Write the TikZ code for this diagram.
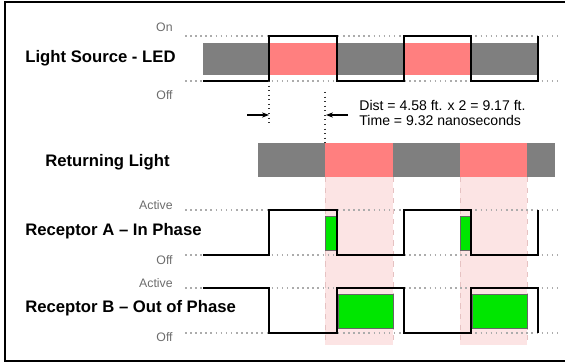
\documentclass[tikz,border=0pt]{standalone}
\usepackage{fontspec}
\setmainfont{Liberation Sans}
\usetikzlibrary{arrows.meta, positioning}

\definecolor{barGrey}{HTML}{7F7F7F}
\definecolor{barPink}{HTML}{FF7F7F}
\definecolor{windowPink}{HTML}{FCE4E4}
\definecolor{windowEdge}{HTML}{E6C2C2}
\definecolor{hitGreen}{HTML}{00E600}

\begin{document}
\begin{tikzpicture}[
    x=0.02cm, y=-0.02cm,
    signal/.style={draw=black, line width=1.1pt},
    level/.style={draw=gray!65, dotted, line width=0.9pt},
    marker/.style={draw=black!80, dotted, line width=0.6pt},
    heading/.style={anchor=west, inner sep=0pt, font=\bfseries\fontsize{9.5}{11}\selectfont},
    levelname/.style={anchor=east, inner sep=0pt, text=gray!85!black, font=\fontsize{7}{8}\selectfont},
    note/.style={anchor=west, inner sep=0pt, align=left, font=\fontsize{8}{8}\selectfont},
    window/.style={fill=windowPink},
    windowside/.style={draw=windowEdge, dashed, line width=0.5pt},
    hit/.style={fill=hitGreen, draw=black!60, line width=0.3pt},
    arrow/.style={-{Stealth[length=4pt, width=3pt]}, line width=0.6pt, draw=black}
]
\useasboundingbox (0,0) rectangle (565,364);
% frame
\draw[line width=1.3pt] (567,2) -- (5,2) -- (5,361) -- (567,361);

% headings
\node (ledName) [heading] at (25,58) {Light Source - LED};
\node (returnName) [heading] at (45,162) {Returning Light};
\node (recAName) [heading] at (25,231) {Receptor A -- In Phase};
\node (recBName) [heading] at (25,308) {Receptor B -- Out of Phase};

% level names
\node (ledOn) [levelname] at (173,27) {On};
\node (ledOff) [levelname] at (173,95) {Off};
\node (recAOn) [levelname] at (173,205) {Active};
\node (recAOff) [levelname] at (173,260) {Off};
\node (recBOn) [levelname] at (173,283) {Active};
\node (recBOff) [levelname] at (173,337) {Off};

% receiving windows
\foreach \xa/\xb in {325/393, 460/527} {
    \fill[window] (\xa,177) rectangle (\xb,345);
    \draw[windowside] (\xa,177) -- (\xa,345);
    \draw[windowside] (\xb,177) -- (\xb,345);
}

% level lines
\foreach \lv in {36, 81, 210, 255, 288, 333}
    \draw[level] (185,\lv) -- (558,\lv);

% LED bar
\foreach \xa/\xb/\col in {203/269/barGrey, 269/337/barPink, 337/404/barGrey, 404/471/barPink, 471/537/barGrey}
    \fill[\col] (\xa,43) rectangle (\xb,75);

% returning light bar
\foreach \xa/\xb/\col in {258/325/barGrey, 325/393/barPink, 393/460/barGrey, 460/527/barPink, 527/555/barGrey}
    \fill[\col] (\xa,143) rectangle (\xb,177);

% detected light
\foreach \xa/\xb in {325/336, 460/471}
    \draw[hit] (\xa,216) rectangle (\xb,250);
\foreach \xa/\xb in {338/393, 472/527}
    \draw[hit] (\xa,294) rectangle (\xb,328);

% signals
\draw[signal] (203,81) -| (269,36) -| (337,81) -| (404,36) -| (471,81) -| (538,36);
\draw[signal] (203,255) -| (269,210) -| (337,255) -| (404,210) -| (471,255) -| (538,210);
\draw[signal] (203,288) -| (269,333) -| (337,288) -| (404,333) -| (471,288) -| (538,333);

% delay
\draw[marker] (269,81) -- (269,123);
\draw[marker] (325,92) -- (325,143);
\coordinate (sendEdge) at (269,115);
\coordinate (sendTail) at (247,115);
\coordinate (backEdge) at (326,115);
\coordinate (backTail) at (348,115);
\draw[arrow] (sendTail) -- (sendEdge);
\draw[arrow] (backTail) -- (backEdge);
\node (dist) [note] at (359,113) {Dist = 4.58 ft. x 2 = 9.17 ft.\\Time = 9.32 nanoseconds};
\end{tikzpicture}
\end{document}
